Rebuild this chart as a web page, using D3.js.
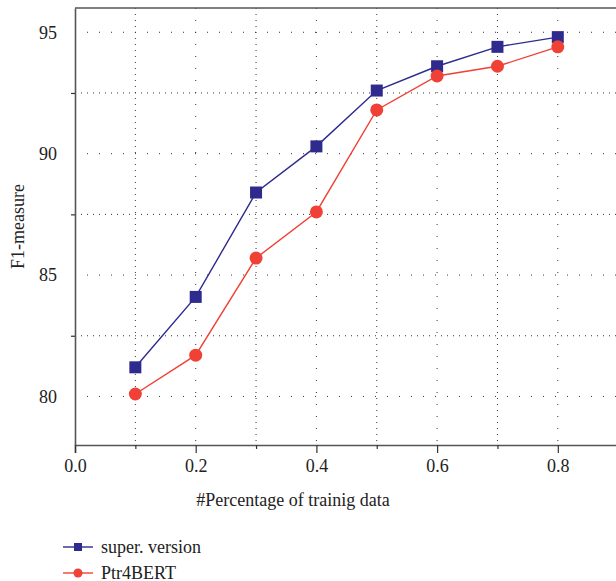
<!DOCTYPE html>
<meta charset="utf-8">
<style>
    body { margin: 0; background: #fff; }
    svg { display: block; }
    text { font-family: "Liberation Serif", "DejaVu Serif", serif; fill: #222; }
</style>
<body>
<svg width="616" height="581"></svg>
<script src="https://d3js.org/d3.v7.min.js"></script>
<script>
    // data
    var pct = [0.1, 0.2, 0.3, 0.4, 0.5, 0.6, 0.7, 0.8];
    var superVersion = [81.2, 84.1, 88.4, 90.3, 92.6, 93.6, 94.4, 94.8];
    var ptr4bert = [80.1, 81.7, 85.7, 87.6, 91.8, 93.2, 93.6, 94.4];
    var xTicks = [0.0, 0.2, 0.4, 0.6, 0.8];
    var xMinor = [0.1, 0.3, 0.5, 0.7];
    var yTicks = [80, 85, 90, 95];
    var yMinor = [82.5, 87.5, 92.5];
    var seriesNames = ["super. version", "Ptr4BERT"];

    var svg = d3.select("svg");
    var plotLeft = 75, plotTop = 8, plotBottom = 445;

    var x = d3.scaleLinear().domain([0, 0.9]).range([plotLeft, plotLeft + 0.9 * 603.5]);
    var y = d3.scaleLinear().domain([78, 96]).range([plotBottom, plotTop]);

    var blue = "#2e2a8e", red = "#ef4136";

    // grid
    var grid = svg.append("g").attr("stroke", "#333").attr("stroke-width", 1);
    grid.selectAll(".vmaj").data(xTicks.slice(1).concat([0.9]))
        .enter().append("line")
        .attr("x1", function (d) { return x(d); }).attr("x2", function (d) { return x(d); })
        .attr("y1", plotTop).attr("y2", plotBottom)
        .attr("stroke-dasharray", "1,11");
    grid.selectAll(".vmin").data(xMinor)
        .enter().append("line")
        .attr("x1", function (d) { return x(d); }).attr("x2", function (d) { return x(d); })
        .attr("y1", plotTop).attr("y2", plotBottom)
        .attr("stroke-dasharray", "1,5");
    grid.selectAll(".hmaj").data(yTicks)
        .enter().append("line")
        .attr("y1", function (d) { return y(d); }).attr("y2", function (d) { return y(d); })
        .attr("x1", plotLeft).attr("x2", 616)
        .attr("stroke-dasharray", "1,11");
    grid.selectAll(".hmin").data(yMinor)
        .enter().append("line")
        .attr("y1", function (d) { return y(d); }).attr("y2", function (d) { return y(d); })
        .attr("x1", plotLeft).attr("x2", 616)
        .attr("stroke-dasharray", "1,5");

    // axes
    svg.append("g")
        .attr("transform", "translate(0," + plotBottom + ")")
        .call(d3.axisBottom(x).tickValues(xTicks).tickSize(8).tickPadding(6)
            .tickFormat(d3.format(".1f")));
    svg.append("g")
        .attr("transform", "translate(0," + plotBottom + ")")
        .call(d3.axisBottom(x).tickValues(xMinor).tickSize(4).tickFormat(""))
        .select(".domain").remove();
    svg.append("g")
        .attr("transform", "translate(" + plotLeft + ",0)")
        .call(d3.axisLeft(y).tickValues(yTicks).tickSize(0).tickPadding(18));
    svg.append("g")
        .attr("transform", "translate(" + plotLeft + ",0)")
        .call(d3.axisLeft(y).tickValues(yMinor).tickSize(4).tickFormat(""))
        .select(".domain").remove();

    svg.selectAll(".domain").attr("stroke", "#555").attr("stroke-width", 1.6);
    svg.selectAll(".tick line").attr("stroke", "#333").attr("stroke-width", 1.2);
    svg.selectAll(".tick text").style("font-size", "18px").attr("fill", "#222")
        .style("font-family", "Liberation Serif, serif");

    // top border
    svg.append("line").attr("x1", plotLeft).attr("x2", 616)
        .attr("y1", plotTop).attr("y2", plotTop)
        .attr("stroke", "#555").attr("stroke-width", 1.6);

    // series
    var line = d3.line()
        .x(function (d, i) { return x(pct[i]); })
        .y(function (d) { return y(d); });

    svg.append("path").datum(superVersion)
        .attr("d", line).attr("fill", "none")
        .attr("stroke", blue).attr("stroke-width", 1.4);
    svg.append("path").datum(ptr4bert)
        .attr("d", line).attr("fill", "none")
        .attr("stroke", red).attr("stroke-width", 1.4);

    svg.selectAll(".sq").data(superVersion)
        .enter().append("rect")
        .attr("x", function (d, i) { return x(pct[i]) - 6; })
        .attr("y", function (d) { return y(d) - 6; })
        .attr("width", 12).attr("height", 12)
        .attr("fill", blue);
    svg.selectAll(".dot").data(ptr4bert)
        .enter().append("circle")
        .attr("cx", function (d, i) { return x(pct[i]); })
        .attr("cy", function (d) { return y(d); })
        .attr("r", 6.5)
        .attr("fill", red);

    // axis titles
    svg.append("text")
        .attr("transform", "translate(24," + ((plotTop + plotBottom) / 2) + ") rotate(-90)")
        .style("text-anchor", "middle")
        .style("font-size", "18px")
        .text("F1-measure");
    svg.append("text")
        .attr("x", 293).attr("y", 506)
        .style("text-anchor", "middle")
        .style("font-size", "18px")
        .text("#Percentage of trainig data");

    // legend
    var legend = svg.append("g");
    var ly = [547, 573];
    var colors = [blue, red];
    seriesNames.forEach(function (name, i) {
        legend.append("line")
            .attr("x1", 63).attr("x2", 93)
            .attr("y1", ly[i]).attr("y2", ly[i])
            .attr("stroke", colors[i]).attr("stroke-width", 1.4);
        if (i === 0) {
            legend.append("rect").attr("x", 74).attr("y", ly[i] - 4)
                .attr("width", 8).attr("height", 8).attr("fill", blue);
        } else {
            legend.append("circle").attr("cx", 78).attr("cy", ly[i])
                .attr("r", 4.5).attr("fill", red);
        }
        legend.append("text")
            .attr("x", 101).attr("y", ly[i] + 6)
            .style("font-size", "18px")
            .text(name);
    });
</script>
</body>
